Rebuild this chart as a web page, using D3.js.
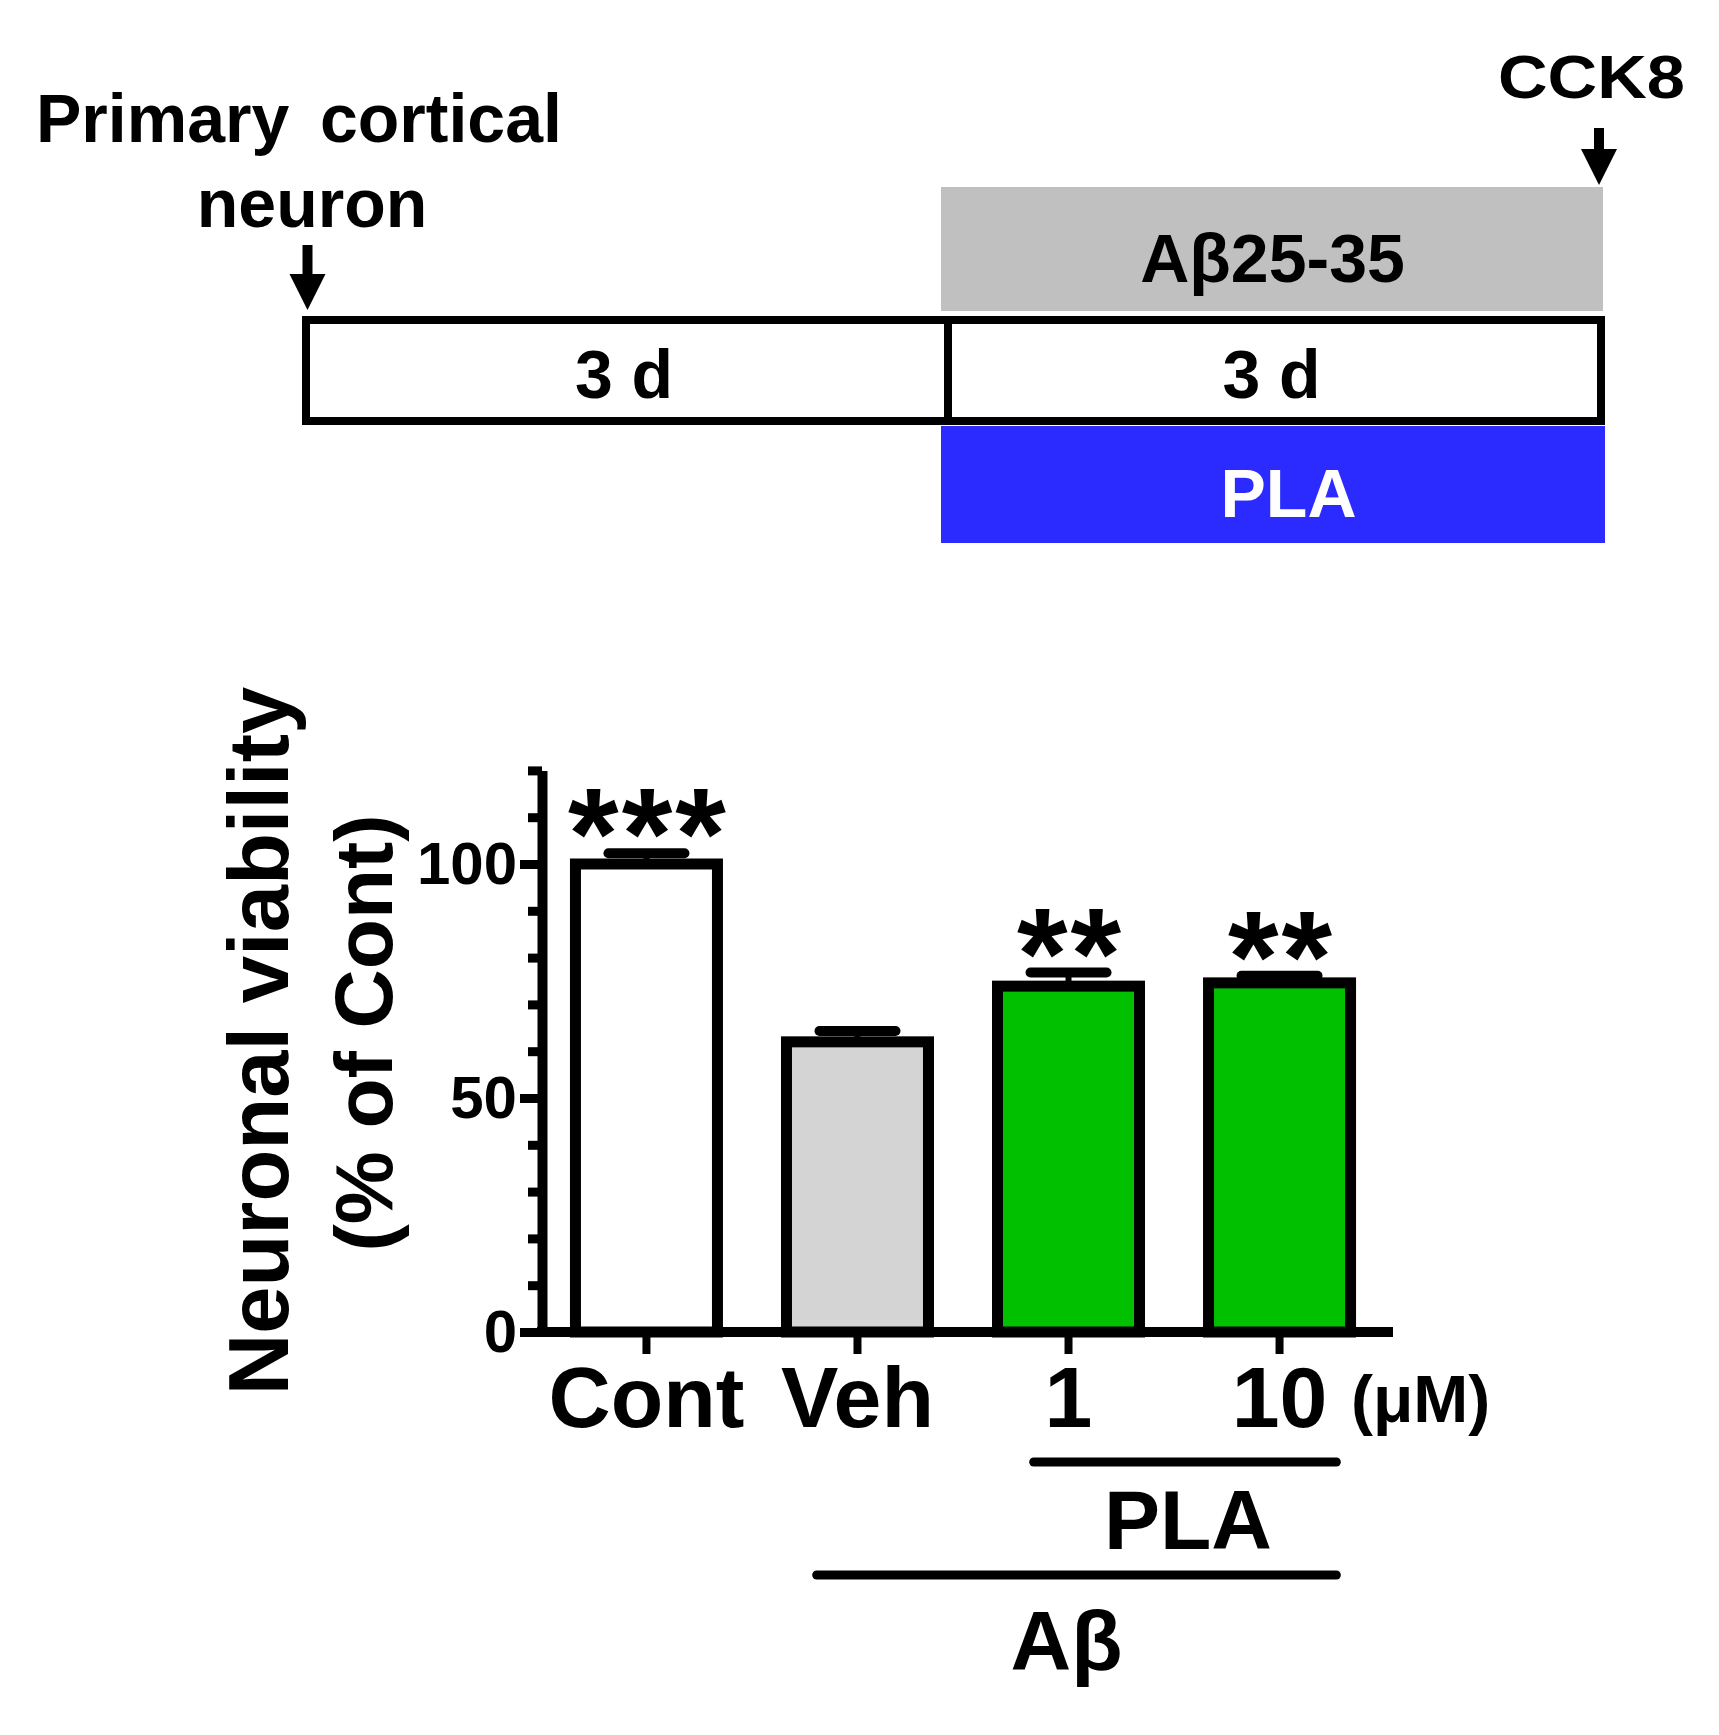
<!DOCTYPE html>
<html><head><meta charset="utf-8">
<script src="https://cdn.jsdelivr.net/npm/d3@7"></script>
<style>
body{margin:0;background:#fff}
svg text{font-family:"Liberation Sans",Arial,Helvetica,sans-serif;font-weight:bold}
</style>
</head><body>
<svg id="c" width="1719" height="1735"></svg>
<script>
// ---------- data ----------
const categories = ["Cont", "Veh", "1", "10"];
const values = [100, 62.0, 73.9, 74.6];
const errors = [2.3, 2.3, 2.9, 1.5];
const fills = ["#ffffff", "#d4d4d4", "#00c000", "#00c000"];
const significance = ["***", "", "**", "**"];
const yMajorTicks = [0, 50, 100];
const yMinorTicks = [10, 20, 30, 40, 60, 70, 80, 90, 110, 120];
const yDomain = [0, 120];
const unitLabel = "(\u03BCM)";
const groupLabels = [{text: "PLA", from: "1", to: "10"}, {text: "A\u03B2", from: "Veh", to: "10"}];

// timeline schematic (days)
const timelineDays = [0, 3, 6];
const timelineSegments = [{start: 0, end: 3, label: "3 d"}, {start: 3, end: 6, label: "3 d"}];
const treatments = [{start: 3, end: 6, label: "A\u03B225-35", fill: "#c0c0c0", color: "#000"},
                    {start: 3, end: 6, label: "PLA", fill: "#2b2bff", color: "#fff"}];
const startLabel = ["Primary", "cortical", "neuron"];
const endLabel = "CCK8";

const svg = d3.select("#c");

// ---------- timeline ----------
const t = d3.scaleLinear().domain(timelineDays).range([306, 948, 1601]);
const tl = svg.append("g");
// Abeta bar (above)
tl.append("rect").attr("x", t(treatments[0].start) - 7).attr("y", 187)
  .attr("width", t(treatments[0].end) - t(treatments[0].start) + 9).attr("height", 124)
  .attr("fill", treatments[0].fill);
tl.append("text").attr("x", (t(treatments[0].start) + t(treatments[0].end)) / 2 - 2).attr("y", 282)
  .attr("text-anchor", "middle").attr("font-size", 68).attr("fill", treatments[0].color).text(treatments[0].label);
// PLA bar (below)
tl.append("rect").attr("x", t(treatments[1].start) - 7).attr("y", 426)
  .attr("width", t(treatments[1].end) - t(treatments[1].start) + 11).attr("height", 117)
  .attr("fill", treatments[1].fill);
tl.append("text").attr("x", (t(treatments[1].start) + t(treatments[1].end)) / 2 + 14).attr("y", 517)
  .attr("text-anchor", "middle").attr("font-size", 68).attr("fill", treatments[1].color).text(treatments[1].label);
// day segments
timelineSegments.forEach(s => {
  tl.append("rect").attr("x", t(s.start)).attr("y", 320).attr("width", t(s.end) - t(s.start)).attr("height", 101)
    .attr("fill", "#fff").attr("stroke", "#000").attr("stroke-width", 8);
  tl.append("text").attr("x", (t(s.start) + t(s.end)) / 2 - 3).attr("y", 398)
    .attr("text-anchor", "middle").attr("font-size", 68).text(s.label);
});
// arrows
function arrow(x, y1, y2) {
  tl.append("line").attr("x1", x).attr("x2", x).attr("y1", y1).attr("y2", y2 - 30)
    .attr("stroke", "#000").attr("stroke-width", 10);
  tl.append("path").attr("d", `M${x - 18},${y2 - 36}L${x + 18},${y2 - 36}L${x},${y2}Z`).attr("fill", "#000");
}
arrow(t(0) + 1.5, 245, 310);
arrow(t(6) - 2, 128, 185);
tl.append("text").attr("x", 36).attr("y", 142).attr("font-size", 68).text(startLabel[0]);
tl.append("text").attr("x", 320).attr("y", 142).attr("font-size", 68).text(startLabel[1]);
tl.append("text").attr("x", t(0) + 6).attr("y", 227).attr("text-anchor", "middle").attr("font-size", 68).text(startLabel[2]);
tl.append("text").attr("x", 1498).attr("y", 98).attr("font-size", 62)
  .attr("textLength", 187).attr("lengthAdjust", "spacingAndGlyphs").text(endLabel);

// ---------- bar chart ----------
const y = d3.scaleLinear().domain(yDomain).range([1332, 1332 - 4.68 * 120]);
const x = d3.scaleBand().domain(categories).range([542, 1384]).paddingInner(0.31).paddingOuter(0.15);
const bw = x.bandwidth();
const g = svg.append("g");

// bars
g.selectAll("rect.bar").data(categories).join("rect").attr("class", "bar")
  .attr("x", d => x(d) + 1.8).attr("width", bw - 3.6)
  .attr("y", (d, i) => y(values[i])).attr("height", (d, i) => y(0) - y(values[i]))
  .attr("fill", (d, i) => fills[i]).attr("stroke", "#000").attr("stroke-width", 11);

// error bars (upper only)
categories.forEach((c, i) => {
  const cx = x(c) + bw / 2, top = y(values[i] + errors[i]);
  g.append("line").attr("x1", cx).attr("x2", cx).attr("y1", y(values[i])).attr("y2", top)
    .attr("stroke", "#000").attr("stroke-width", 6);
  g.append("line").attr("x1", cx - 38).attr("x2", cx + 38).attr("y1", top).attr("y2", top)
    .attr("stroke", "#000").attr("stroke-width", 10).attr("stroke-linecap", "round");
});

// significance asterisks
g.selectAll("text.sig").data(categories).join("text").attr("class", "sig")
  .attr("x", d => x(d) + bw / 2 + 2).attr("y", (d, i) => y(values[i] + errors[i]) + 26)
  .attr("text-anchor", "middle").attr("font-size", 130).attr("letter-spacing", 3)
  .text((d, i) => significance[i]);

// y axis minor ticks
const yMinor = g.append("g").attr("transform", "translate(542,0)")
  .call(d3.axisLeft(y).tickValues(yMinorTicks).tickSize(14).tickFormat(""));
// y axis major ticks + labels
const yMajor = g.append("g").attr("transform", "translate(542,0)")
  .call(d3.axisLeft(y).tickValues(yMajorTicks).tickSize(22).tickPadding(3).tickSizeOuter(0).tickFormat(d3.format("d")));
[yMinor, yMajor].forEach(a => {
  a.selectAll("line").attr("stroke", "#000").attr("stroke-width", 9);
  a.select(".domain").attr("stroke", "#000").attr("stroke-width", 10);
  a.selectAll("text").attr("font-size", 60).attr("fill", "#000").attr("font-family", null);
});
yMinor.select(".domain").remove();

// x axis
const xAxis = g.append("g").attr("transform", `translate(0,${y(0)})`)
  .call(d3.axisBottom(x).tickSize(22).tickPadding(36).tickSizeOuter(0));
xAxis.select(".domain").attr("d", "M537,0H1393").attr("stroke", "#000").attr("stroke-width", 10);
xAxis.selectAll("line").attr("stroke", "#000").attr("stroke-width", 8);
xAxis.selectAll("text").attr("font-size", 86).attr("fill", "#000").attr("font-family", null).attr("dy", "0");
xAxis.selectAll(".tick text").attr("y", 95);

// unit label
g.append("text").attr("x", 1351).attr("y", 1422).attr("font-size", 66).text(unitLabel);

// group lines
const pla = groupLabels[0], ab = groupLabels[1];
g.append("line").attr("x1", x(pla.from) + 38).attr("x2", x(pla.to) + bw - 16)
  .attr("y1", 1462).attr("y2", 1462).attr("stroke", "#000").attr("stroke-width", 9).attr("stroke-linecap", "round");
g.append("text").attr("x", (x(pla.from) + x(pla.to) + bw) / 2 + 14).attr("y", 1549)
  .attr("text-anchor", "middle").attr("font-size", 84).text(pla.text);
g.append("line").attr("x1", x(ab.from) + 32).attr("x2", x(ab.to) + bw - 16)
  .attr("y1", 1575).attr("y2", 1575).attr("stroke", "#000").attr("stroke-width", 9).attr("stroke-linecap", "round");
g.append("text").attr("x", x("1") + bw / 2 - 2).attr("y", 1670)
  .attr("text-anchor", "middle").attr("font-size", 84).text(ab.text);

// y axis title
g.append("text").attr("transform", "translate(288,1041) rotate(-90)")
  .attr("text-anchor", "middle").attr("font-size", 85).text("Neuronal viability");
g.append("text").attr("transform", "translate(392,1033) rotate(-90)")
  .attr("text-anchor", "middle").attr("font-size", 82).text("(% of Cont)");
</script>
</body></html>
